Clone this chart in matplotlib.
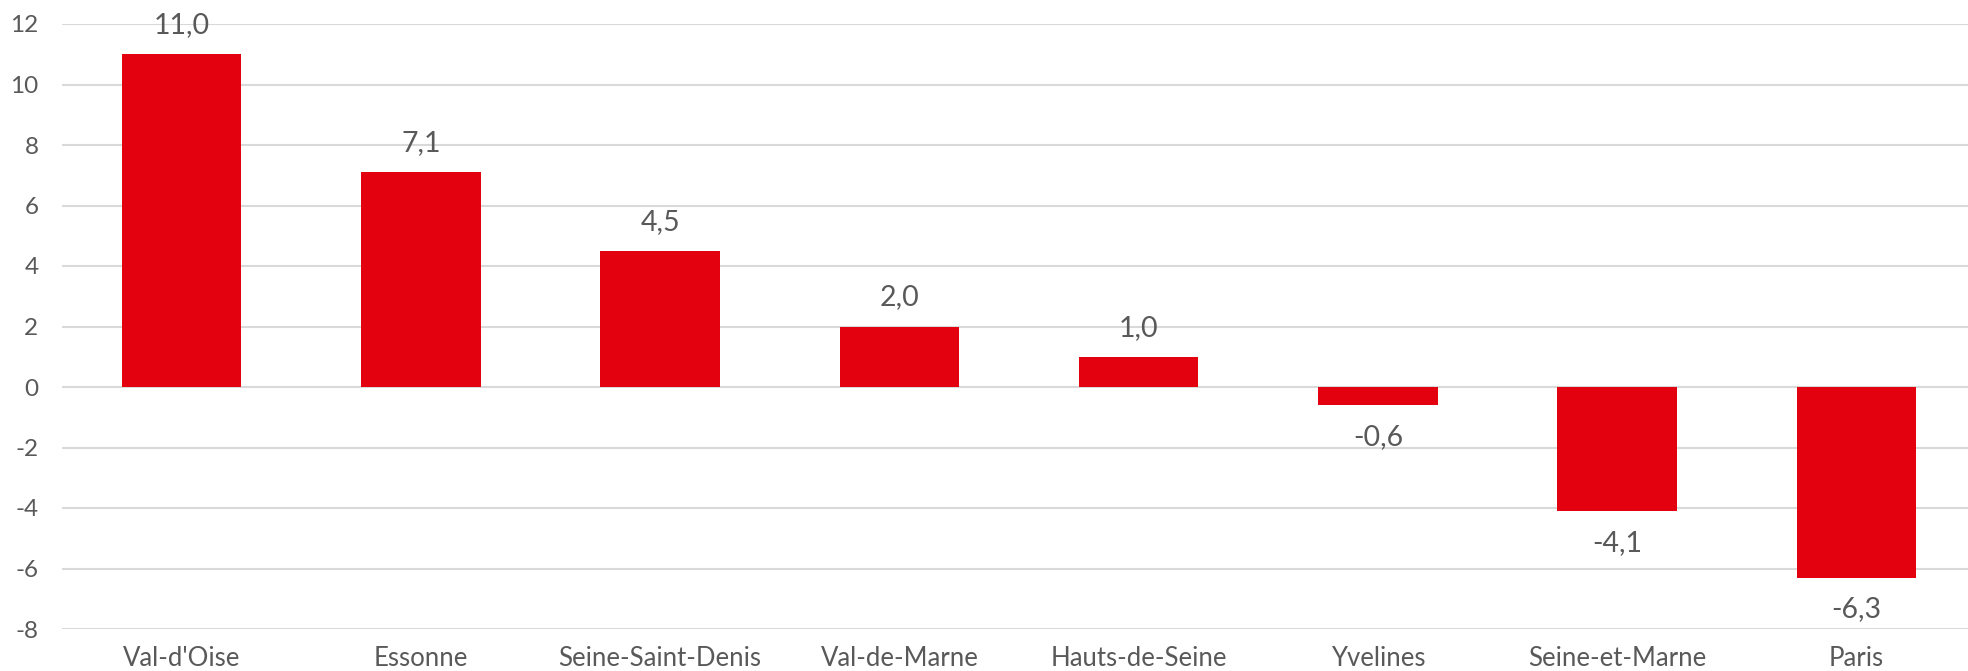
import matplotlib.pyplot as plt
import numpy as np

departements = ['Val-d\'Oise', 'Essonne', 'Seine-Saint-Denis', 'Val-de-Marne',
                'Hauts-de-Seine', 'Yvelines', 'Seine-et-Marne', 'Paris']
valeurs = [11.0, 7.1, 4.5, 2.0, 1.0, -0.6, -4.1, -6.3]
yticks = [-8, -6, -4, -2, 0, 2, 4, 6, 8, 10, 12]

plt.rcParams['font.family'] = ['Lato', 'DejaVu Sans']
text_color = '#595959'

fig = plt.figure(figsize=(19.68, 6.71), dpi=100)
# plot area runs slightly past the right edge of the picture, as in the original
ax = fig.add_axes([62 / 1968, 1 - 629 / 671, 1914 / 1968, 605 / 671])

x = np.arange(len(departements))
ax.bar(x, valeurs, width=0.5, color='#E3000F', zorder=3)

for xi, v in zip(x, valeurs):
    label = f'{v:.1f}'.replace('.', ',')
    if v >= 0:
        ax.annotate(label, (xi, v), xytext=(0, 21), textcoords='offset points',
                    ha='center', va='center', fontsize=20.5, color=text_color)
    else:
        ax.annotate(label, (xi, v), xytext=(0, -23), textcoords='offset points',
                    ha='center', va='center', fontsize=20.5, color=text_color)

ax.set_xlim(-0.5, len(departements) - 0.5)
ax.set_ylim(-8, 12)
ax.set_yticks(yticks)
ax.set_yticklabels([str(t) for t in yticks])
ax.set_xticks(x)
ax.set_xticklabels(departements)
ax.tick_params(axis='both', length=0, labelsize=17.5, colors=text_color)
ax.tick_params(axis='x', pad=12, labelsize=18.5)
ax.tick_params(axis='y', pad=17)

ax.grid(axis='y', color='#D9D9D9', linewidth=1.5, zorder=0)
for s in ax.spines.values():
    s.set_visible(False)

fig.savefig('out.png', dpi=100)
